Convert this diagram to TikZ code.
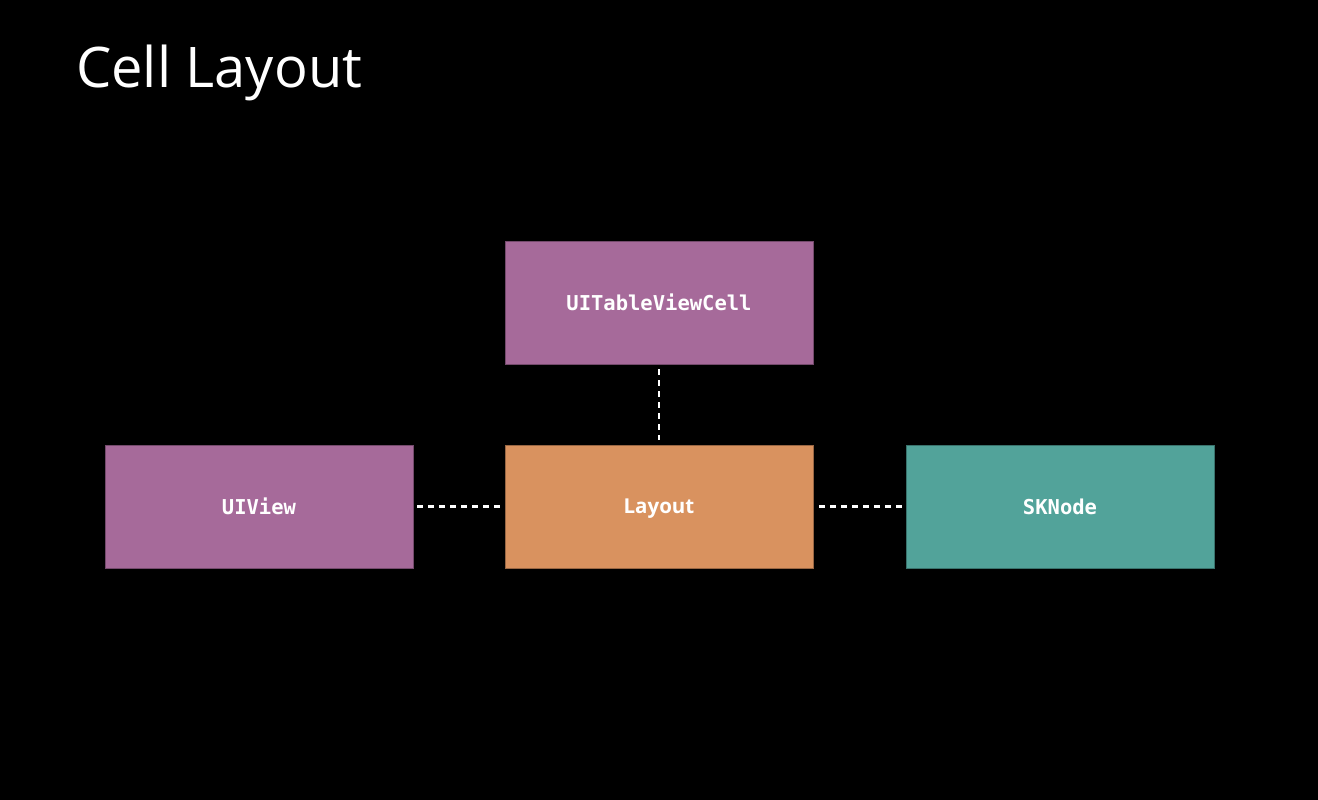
\documentclass[tikz,border=0pt]{standalone}
\usepackage{fontspec}
\setmainfont{Open Sans}
\newfontfamily\monofont{DejaVu Sans Mono}
\newfontfamily\titlefont{Open Sans}
\definecolor{boxpurple}{HTML}{A66A9A}
\definecolor{boxorange}{HTML}{D9925F}
\definecolor{boxteal}{HTML}{52A39A}
\begin{document}
\begin{tikzpicture}[x=1pt,y=-1pt,
  block/.style={minimum width=308pt,minimum height=123pt,inner sep=0pt,text depth=0pt,text=white,draw=black!30!#1,line width=0.6pt,fill=#1},
  codelabel/.style={font=\monofont\bfseries\fontsize{20.5}{24}\selectfont},
  link/.style={draw=white,line width=2.2pt,dash pattern=on 6pt off 5pt}]
\fill[black] (0,0) rectangle (1318,800);
\useasboundingbox (0,0) rectangle (1318,800);
\node[anchor=base west,text=white,inner sep=0pt,font=\titlefont\fontsize{56}{64}\selectfont] (title) at (76,88) {Cell Layout};
\node[block=boxpurple,codelabel] (cell) at (659,302.5) {UITableViewCell};
\node[block=boxpurple,codelabel] (view) at (259,506.5) {UIView};
\node[block=boxorange,font=\fontsize{20.5}{24}\selectfont\bfseries] (layout) at (659,506.5) {Layout};
\node[block=boxteal,codelabel] (sk) at (1060,506.5) {SKNode};
\draw[link] ([yshift=-5pt]cell.south) -- ([yshift=5pt]layout.north);
\draw[link] ([xshift=4pt]view.east) -- ([xshift=-5pt]layout.west);
\draw[link] ([xshift=6pt]layout.east) -- ([xshift=-4pt]sk.west);
\end{tikzpicture}
\end{document}
